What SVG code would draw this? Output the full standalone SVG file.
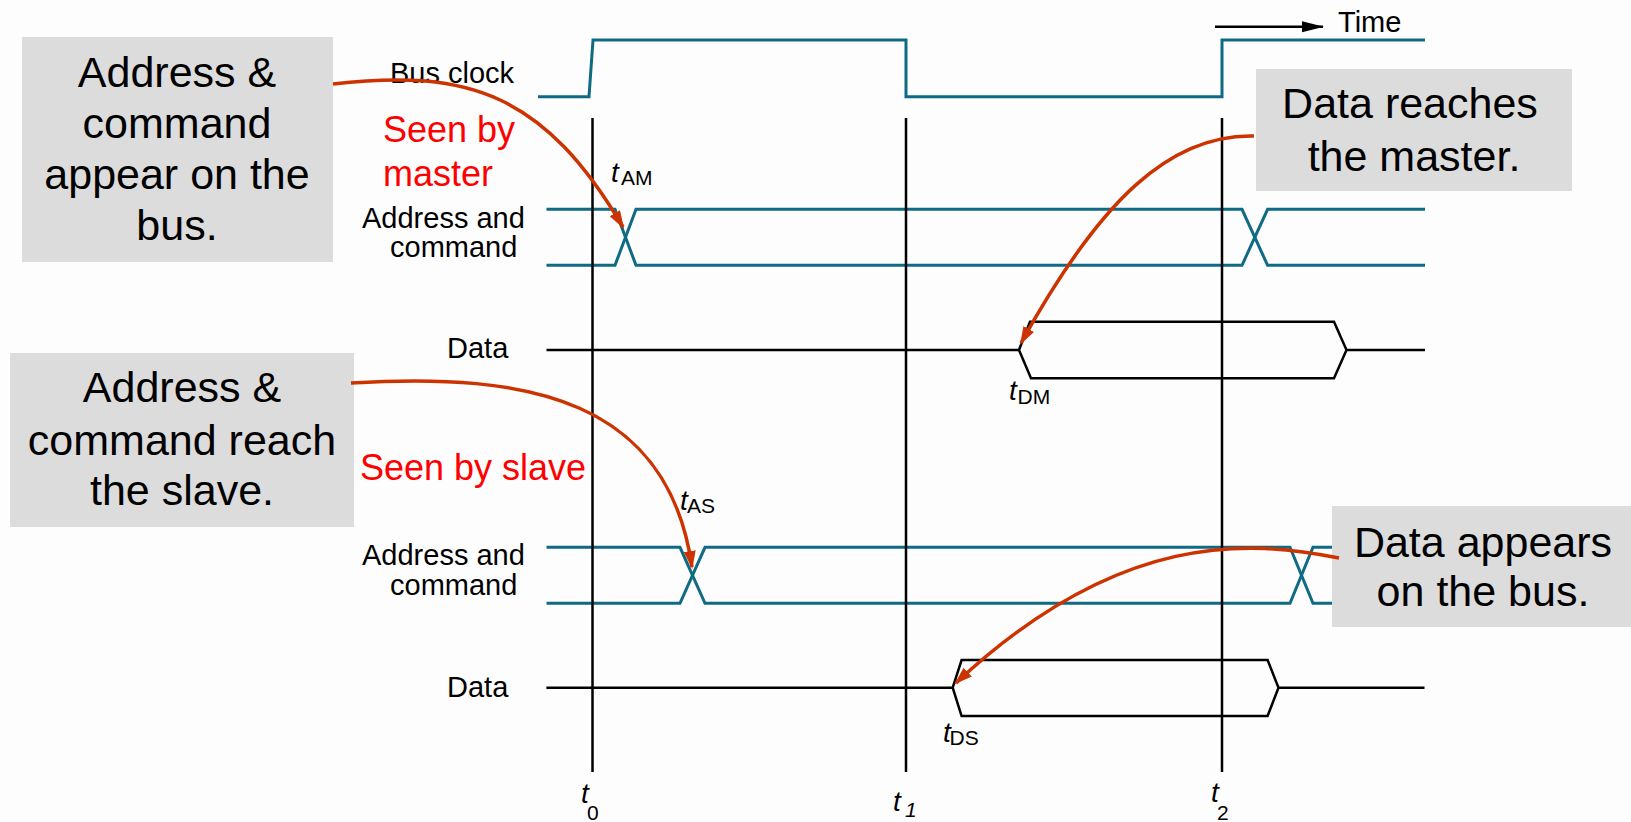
<svg xmlns="http://www.w3.org/2000/svg" width="1631" height="822" viewBox="0 0 1631 822">
<defs>
<style>
.bg{fill:#fdfdfd}
.box{fill:#dcdcdc}
.bt{font-family:"Liberation Sans",Arial,sans-serif;font-size:43px;fill:#000;text-anchor:middle}
.lb{font-family:"Liberation Sans",Arial,sans-serif;font-size:29px;fill:#000}
.red{font-family:"Liberation Sans",Arial,sans-serif;font-size:36px;fill:#ff0000}
.ti{font-family:"Liberation Sans",Arial,sans-serif;font-size:28px;font-style:italic;fill:#000}
.sub{font-family:"Liberation Sans",Arial,sans-serif;font-size:21px;fill:#000}
.teal{fill:none;stroke:#0f6a84;stroke-width:3;stroke-linejoin:miter}
.blk{fill:none;stroke:#000;stroke-width:2.5}
.vl{fill:none;stroke:#000;stroke-width:2.5}
.arr{fill:none;stroke:#cc3300;stroke-width:3.5;marker-end:url(#ra)}
</style>
<marker id="ra" markerUnits="userSpaceOnUse" markerWidth="18" markerHeight="12" refX="16" refY="6" orient="auto">
<path d="M0,0 L18,6 L0,12 z" fill="#cc3300"/>
</marker>
<marker id="ba" markerUnits="userSpaceOnUse" markerWidth="22" markerHeight="12" refX="21" refY="6" orient="auto">
<path d="M0,0.5 L22,6 L0,11.5 z" fill="#000"/>
</marker>
</defs>
<rect class="bg" x="0" y="0" width="1631" height="822"/>

<g id="signals">
<g id="bus-clock">
<path class="teal" d="M538,96.7 H589 L593,40 H906 V96.7 H1222 V40 H1425"/>
<text class="lb" x="390" y="83">Bus clock</text>
</g>
<g id="time-axis">
<line x1="1215" y1="26.7" x2="1323" y2="26.7" stroke="#000" stroke-width="2.5" marker-end="url(#ba)"/>
<text class="lb" x="1338" y="31.7">Time</text>
</g>
<g id="master-address">
<path class="teal" d="M546.5,209.3 H615 L636,265.3 H1242 L1267.6,209.3 H1425"/>
<path class="teal" d="M546.5,265.3 H615 L636,209.3 H1242 L1267.6,265.3 H1425"/>
<text class="lb" x="362" y="228">Address and</text>
<text class="lb" x="390" y="257">command</text>
</g>
<g id="master-data">
<path class="blk" d="M546.5,350 H1019 M1346.5,350 H1425"/>
<path class="blk" d="M1019,350 L1030,321.7 H1334 L1346.5,350 L1334,378.3 H1031 Z"/>
<text class="lb" x="447" y="358.3">Data</text>
</g>
<g id="slave-address">
<path class="teal" d="M546.5,547.3 H680 L705,603.3 H1290 L1313,547.3 H1425"/>
<path class="teal" d="M546.5,603.3 H680 L705,547.3 H1290 L1313,603.3 H1425"/>
<text class="lb" x="362" y="565">Address and</text>
<text class="lb" x="390" y="595">command</text>
</g>
<g id="slave-data">
<path class="blk" d="M546.4,687.7 H952.7 M1278.5,687.7 H1424.5"/>
<path class="blk" d="M952.7,687.7 L961.6,660 H1267.6 L1278.5,687.7 L1267.6,716 H961.6 Z"/>
<text class="lb" x="447" y="696.7">Data</text>
</g>
</g>

<g id="time-markers">
<line class="vl" x1="592.5" y1="118" x2="592.5" y2="772"/>
<line class="vl" x1="906" y1="118" x2="906" y2="772"/>
<line class="vl" x1="1222" y1="118" x2="1222" y2="772"/>
<text class="ti" x="581" y="803">t</text><text class="sub" x="587" y="820">0</text>
<text class="ti" x="893" y="811">t</text><text class="sub" x="905" y="817" font-style="italic">1</text>
<text class="ti" x="1211" y="802">t</text><text class="sub" x="1217" y="820">2</text>
</g>

<g id="delay-labels">
<text class="ti" x="611" y="182">t</text><text class="sub" x="621" y="184.5">AM</text>
<text class="ti" x="1009" y="400">t</text><text class="sub" x="1017.5" y="404">DM</text>
<text class="ti" x="680" y="510">t</text><text class="sub" x="687" y="513">AS</text>
<text class="ti" x="943" y="742">t</text><text class="sub" x="949.5" y="744.5">DS</text>
</g>

<g id="views">
<text class="red" x="383" y="142">Seen by</text>
<text class="red" x="383" y="186">master</text>
<text class="red" x="360" y="480">Seen by slave</text>
</g>

<g id="box-appear">
<rect class="box" x="22" y="37" width="311" height="225"/>
<text class="bt" x="177" y="87">Address &amp;</text>
<text class="bt" x="177" y="138">command</text>
<text class="bt" x="177" y="189">appear on the</text>
<text class="bt" x="177" y="240">bus.</text>
</g>
<g id="box-reach">
<rect class="box" x="10" y="353" width="344" height="174"/>
<text class="bt" x="182" y="402">Address &amp;</text>
<text class="bt" x="182" y="455">command reach</text>
<text class="bt" x="182" y="505">the slave.</text>
</g>
<g id="box-data-master">
<rect class="box" x="1256" y="69" width="316" height="122"/>
<text class="bt" x="1410" y="118">Data reaches</text>
<text class="bt" x="1414" y="171">the master.</text>
</g>
<g id="box-data-appear">
<rect class="box" x="1332" y="506" width="299" height="121"/>
<text class="bt" x="1483" y="557">Data appears</text>
<text class="bt" x="1483" y="606">on the bus.</text>
</g>

<g id="connectors">
<path class="arr" d="M333,84 C470,68 545,95 623,227"/>
<path class="arr" d="M1254,136 C1170,134 1100,200 1021,343"/>
<path class="arr" d="M351,383 C530,372 668,400 692,567"/>
<path class="arr" d="M1339,558 C1250,540 1120,530 956,683"/>
</g>
</svg>
